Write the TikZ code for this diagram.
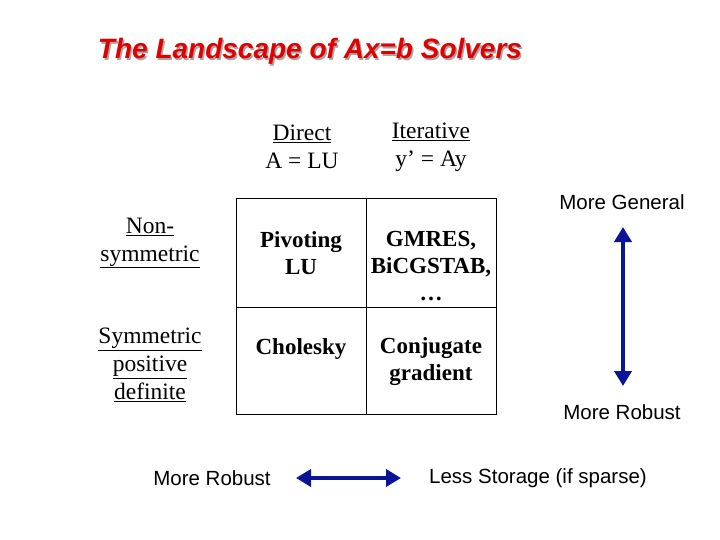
\documentclass[tikz,border=0pt]{standalone}
\usepackage{fontspec}
\setmainfont{Liberation Serif}
\newfontfamily\lsans{Liberation Sans}
\usetikzlibrary{arrows.meta}
\definecolor{arrblue}{RGB}{10,20,150}
\definecolor{ttlred}{RGB}{225,0,0}
\begin{document}
\begin{tikzpicture}[x=1pt,y=-1pt,
  serif/.style={font=\fontsize{23.5}{28}\selectfont,align=center,inner sep=0pt},
  cell/.style={font=\bfseries\fontsize{23}{27}\selectfont,align=center,inner sep=0pt},
  sans/.style={font=\lsans\fontsize{20.5}{24}\selectfont,inner sep=0pt},
  bigarrow/.style={arrblue,line width=4pt,{Triangle[length=15pt,width=17pt]}-{Triangle[length=15pt,width=17pt]}}]
\useasboundingbox (0,0) rectangle (720,540);
\node[font=\lsans\bfseries\itshape\fontsize{28}{32}\selectfont,text=gray!70,inner sep=0pt] (tsh) at (311.5,53.5) {The Landscape of Ax=b Solvers};
\node[font=\lsans\bfseries\itshape\fontsize{28}{32}\selectfont,text=ttlred,inner sep=0pt] (title) at (310,51) {The Landscape of Ax=b Solvers};
\node[serif] (direct) at (302,147) {\underline{Direct}\\A = LU};
\node[serif] (iter) at (431,147) {\underline{Iterative}\\y’ = Ay};
\node[serif] (nonsym) at (150,243) {\underline{Non-}\\\underline{symmetric}};
\node[serif] (sym) at (150,365) {\underline{Symmetric}\\\underline{positive}\\\underline{definite}};
\draw[line width=0.8pt] (236,198) rectangle (496,414);
\draw[line width=0.8pt] (366,198) -- (366,414) (236,307) -- (496,307);
\node[cell] (plu) at (301,253) {Pivoting\\LU};
\node[cell] (gmres) at (431,266) {GMRES,\\BiCGSTAB,\\\dots};
\node[cell] (chol) at (301,349) {Cholesky};
\node[cell] (cg) at (431,362) {Conjugate\\gradient};
\node[sans] (mg) at (622,202) {More General};
\node[sans] (mr1) at (622,412) {More Robust};
\node[sans] (mr2) at (212,478) {More Robust};
\node[sans] (ls) at (538,478) {Less Storage (if sparse)};
\coordinate (vt) at (623,227);
\coordinate (vb) at (623,386);
\coordinate (hl) at (296,478);
\coordinate (hr) at (401,478);
\draw[bigarrow] (vt) -- (vb);
\draw[bigarrow] (hl) -- (hr);
\end{tikzpicture}
\end{document}
